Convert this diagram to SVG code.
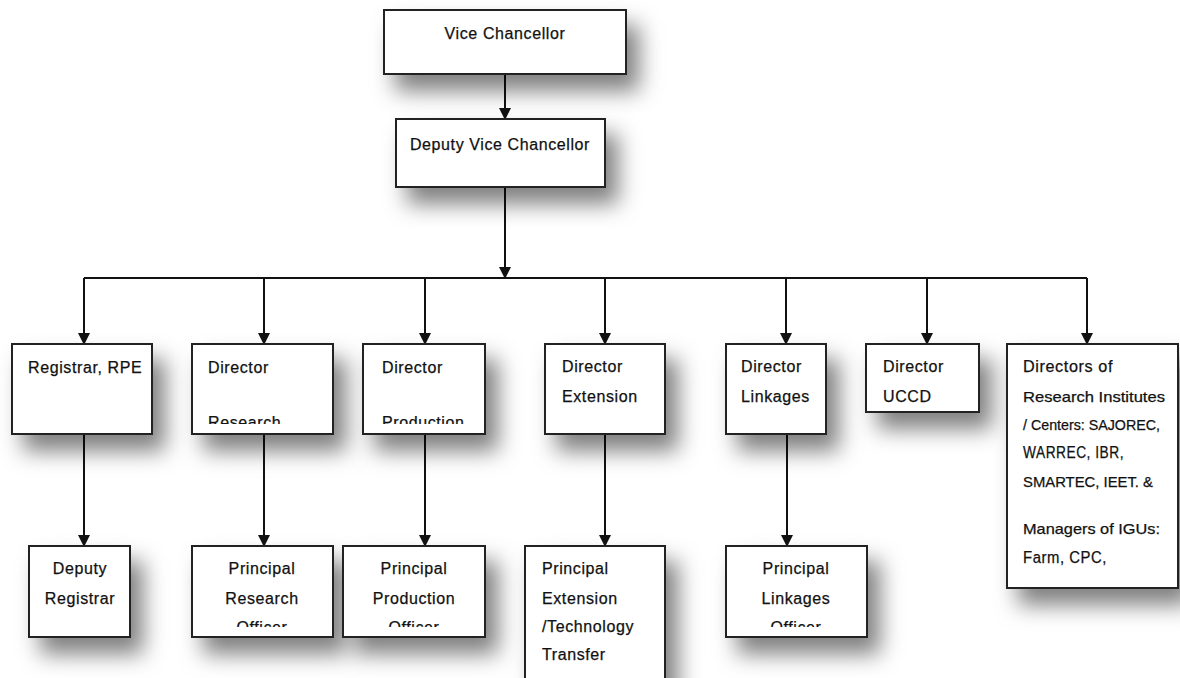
<svg xmlns="http://www.w3.org/2000/svg" width="1180" height="678" viewBox="0 0 1180 678">
<defs>
<filter id="sh" x="-40%" y="-40%" width="200%" height="200%">
<feDropShadow dx="12" dy="16" stdDeviation="11" flood-color="#000" flood-opacity="0.5"/>
</filter>
<marker id="ah" markerWidth="12" markerHeight="12" viewBox="0 0 12 12" refX="11" refY="6" orient="auto" markerUnits="userSpaceOnUse">
<path d="M0,0 L12,6 L0,12 Z" fill="#111"/>
</marker>
<clipPath id="c1"><rect x="192" y="344" width="141" height="80"/></clipPath>
<clipPath id="c2"><rect x="363" y="344" width="122" height="80"/></clipPath>
<clipPath id="c3"><rect x="192" y="546" width="141" height="81"/></clipPath>
<clipPath id="c4"><rect x="343" y="546" width="142" height="81"/></clipPath>
<clipPath id="c5"><rect x="726" y="546" width="141" height="81"/></clipPath>
</defs>
<style>
.box{fill:#fff;stroke:#222;stroke-width:2;filter:url(#sh)}
.t{font-family:"Liberation Sans",Arial,sans-serif;font-size:16px;fill:#111;stroke:#111;stroke-width:0.25;letter-spacing:0.6px}
.n{font-size:15px;letter-spacing:0}
.m{text-anchor:middle}
.c{fill:none;stroke:#111;stroke-width:2}
.a{marker-end:url(#ah)}
</style>
<rect width="1180" height="678" fill="#fff"/>
<g id="connectors">
<path class="c a" d="M505,74 V119"/>
<path class="c a" d="M505,187 V278"/>
<path class="c" d="M84,278 H1087"/>
<path class="c a" d="M84,278 V344"/>
<path class="c a" d="M264,278 V344"/>
<path class="c a" d="M425,278 V344"/>
<path class="c a" d="M605,278 V344"/>
<path class="c a" d="M786,278 V344"/>
<path class="c a" d="M927,278 V344"/>
<path class="c a" d="M1087,278 V344"/>
<path class="c a" d="M84,434 V546"/>
<path class="c a" d="M264,434 V546"/>
<path class="c a" d="M425,434 V546"/>
<path class="c a" d="M605,434 V546"/>
<path class="c a" d="M787,434 V546"/>
</g>
<g id="vc"><rect class="box" x="384" y="10" width="242" height="64"/><text class="t m" x="505" y="39">Vice Chancellor</text></g>
<g id="dvc"><rect class="box" x="396" y="119" width="209" height="68"/><text class="t m" x="500" y="150">Deputy Vice Chancellor</text></g>
<g id="registrar"><rect class="box" x="12" y="344" width="140" height="90"/><text class="t" x="28" y="373">Registrar, RPE</text></g>
<g id="dir-research"><rect class="box" x="192" y="344" width="141" height="90"/><text class="t" x="208" y="373">Director</text><text class="t" x="208" y="428" clip-path="url(#c1)">Research</text></g>
<g id="dir-production"><rect class="box" x="363" y="344" width="122" height="90"/><text class="t" x="382" y="373">Director</text><text class="t" x="382" y="428" clip-path="url(#c2)">Production</text></g>
<g id="dir-extension"><rect class="box" x="545" y="344" width="120" height="90"/><text class="t" x="562" y="372">Director</text><text class="t" x="562" y="402">Extension</text></g>
<g id="dir-linkages"><rect class="box" x="726" y="344" width="100" height="90"/><text class="t" x="741" y="372">Director</text><text class="t" x="741" y="402">Linkages</text></g>
<g id="dir-uccd"><rect class="box" x="866" y="344" width="113" height="68"/><text class="t" x="883" y="372">Director</text><text class="t" x="883" y="402">UCCD</text></g>
<g id="dir-institutes"><rect class="box" x="1007" y="344" width="171" height="244"/>
<text class="t" x="1023" y="372" textLength="90" lengthAdjust="spacingAndGlyphs">Directors of</text>
<text class="t n" x="1023" y="402" textLength="142" lengthAdjust="spacingAndGlyphs">Research Institutes</text>
<text class="t n" x="1023" y="430" textLength="137" lengthAdjust="spacingAndGlyphs">/ Centers: SAJOREC,</text>
<text class="t" x="1023" y="458" textLength="101" lengthAdjust="spacingAndGlyphs">WARREC, IBR,</text>
<text class="t n" x="1023" y="487" textLength="130" lengthAdjust="spacingAndGlyphs">SMARTEC, IEET. &amp;</text>
<text class="t n" x="1023" y="534" textLength="137" lengthAdjust="spacingAndGlyphs">Managers of IGUs:</text>
<text class="t" x="1023" y="563" textLength="84" lengthAdjust="spacingAndGlyphs">Farm, CPC,</text>
</g>
<g id="dep-registrar"><rect class="box" x="29" y="546" width="101" height="91"/><text class="t m" x="80" y="574">Deputy</text><text class="t m" x="80" y="604">Registrar</text></g>
<g id="pro-research"><rect class="box" x="192" y="546" width="141" height="91"/><text class="t m" x="262" y="574">Principal</text><text class="t m" x="262" y="604">Research</text><text class="t m" x="262" y="633" clip-path="url(#c3)">Officer</text></g>
<g id="pro-production"><rect class="box" x="343" y="546" width="142" height="91"/><text class="t m" x="414" y="574">Principal</text><text class="t m" x="414" y="604">Production</text><text class="t m" x="414" y="633" clip-path="url(#c4)">Officer</text></g>
<g id="pro-extension"><rect class="box" x="525" y="546" width="140" height="150"/><text class="t" x="542" y="574">Principal</text><text class="t" x="542" y="604">Extension</text><text class="t" x="542" y="632">/Technology</text><text class="t" x="542" y="660">Transfer</text></g>
<g id="pro-linkages"><rect class="box" x="726" y="546" width="141" height="91"/><text class="t m" x="796" y="574">Principal</text><text class="t m" x="796" y="604">Linkages</text><text class="t m" x="796" y="633" clip-path="url(#c5)">Officer</text></g>
</svg>
